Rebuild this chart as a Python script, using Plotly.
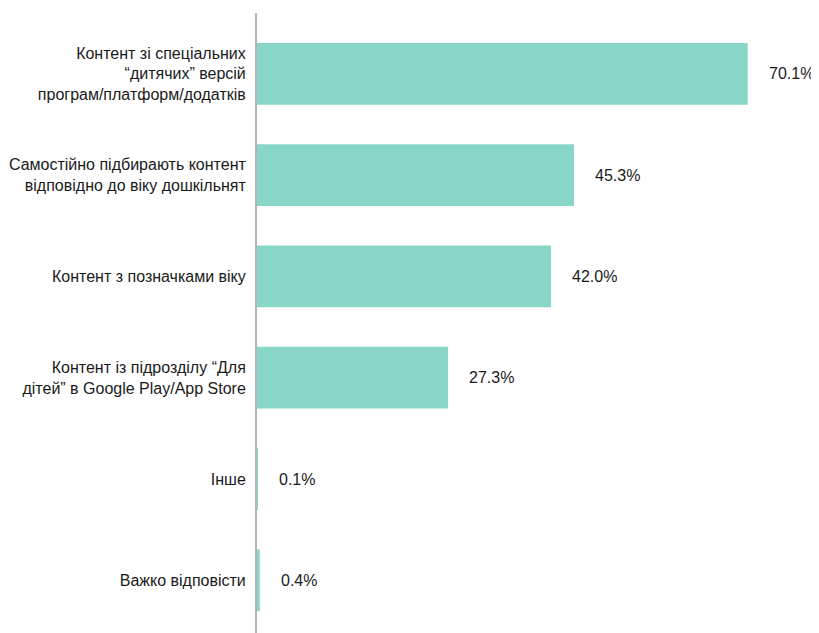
import plotly.graph_objects as go

# Дані з діаграми (знизу догори, щоб перша категорія була зверху)
categories = [
    "Важко відповісти",
    "Інше",
    "Контент із підрозділу “Для<br>дітей” в Google Play/App Store",
    "Контент з позначками віку",
    "Самостійно підбирають контент<br>відповідно до віку дошкільнят",
    "Контент зі спеціальних<br>“дитячих” версій<br>програм/платформ/додатків",
]
values = [0.4, 0.1, 27.3, 42.0, 45.3, 70.1]
value_labels = ["0.4%", "0.1%", "27.3%", "42.0%", "45.3%", "70.1%"]

fig = go.Figure()

fig.add_trace(go.Bar(
    x=values,
    y=categories,
    orientation="h",
    marker=dict(color="#88d6c8", line=dict(width=0)),
    hoverinfo="skip",
))

# підписи значень праворуч від стовпчиків
for v, lab, cat in zip(values, value_labels, categories):
    fig.add_annotation(
        x=v, y=cat, text=lab, showarrow=False,
        xanchor="left", xshift=19,
        font=dict(size=16, color="#1a1a1a"),
    )

# сторінка має відступ 8px, тому розміри трохи менші
fig.update_layout(
    width=811,
    height=625,
    plot_bgcolor="white",
    paper_bgcolor="white",
    font=dict(family="Liberation Sans, Arial, sans-serif", size=16, color="#1a1a1a"),
    margin=dict(l=249, r=2, t=5, b=0),
    bargap=0.39,
    showlegend=False,
)

fig.update_xaxes(
    range=[0, 80],
    showgrid=False,
    zeroline=False,
    showticklabels=False,
    showline=False,
)
fig.update_yaxes(
    range=[-0.52, 5.6],
    showgrid=False,
    zeroline=False,
    showline=True,
    linecolor="#b3b3b3",
    linewidth=2,
    ticks="",
    ticklabelstandoff=6,
    automargin=False,
)

fig.write_html("out.html")
